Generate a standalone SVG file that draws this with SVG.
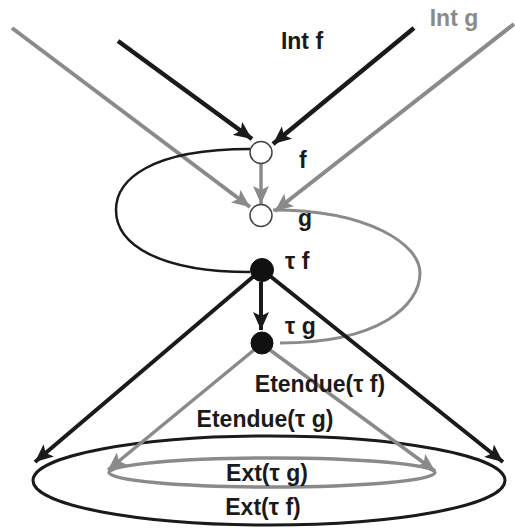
<svg xmlns="http://www.w3.org/2000/svg" width="515" height="532" viewBox="0 0 515 532">
<style>
.t{font-family:"Liberation Sans",Arial,sans-serif;font-weight:bold;font-size:23px;fill:#1a1a1a}
.tg{fill:#8a8a8a}
.bk{stroke:#1a1a1a;fill:none}
.gr{stroke:#8a8a8a;fill:none}
.open{fill:#fff;stroke:#444;stroke-width:1.5}
.full{fill:#111;stroke:#111;stroke-width:1}
</style>
<defs>
<marker id="ab" markerUnits="userSpaceOnUse" markerWidth="19" markerHeight="16" refX="18" refY="8" orient="auto">
<path d="M0,0 L18,8 L0,16 L4,8 z" fill="#1a1a1a"/>
</marker>
<marker id="ag" markerUnits="userSpaceOnUse" markerWidth="19" markerHeight="16" refX="18" refY="8" orient="auto">
<path d="M0,0 L18,8 L0,16 L4,8 z" fill="#8a8a8a"/>
</marker>
</defs>
<rect width="515" height="532" fill="#fff"/>
<g id="ext-f">
<ellipse cx="269" cy="480.5" rx="236" ry="44.5" class="bk" stroke-width="3"/>
<text class="t" x="263" y="515" text-anchor="middle">Ext(τ f)</text>
</g>
<g id="ext-g">
<ellipse cx="272" cy="472.5" rx="163" ry="14.5" class="gr" stroke-width="3.5"/>
<text class="t" x="267" y="481" text-anchor="middle">Ext(τ g)</text>
</g>
<g id="connectors">
<line x1="12" y1="28" x2="250" y2="207" class="gr" stroke-width="4" marker-end="url(#ag)"/>
<line x1="514" y1="24" x2="275" y2="211" class="gr" stroke-width="4" marker-end="url(#ag)"/>
<line x1="118" y1="41" x2="252" y2="139" class="bk" stroke-width="4.5" marker-end="url(#ab)"/>
<line x1="414" y1="28" x2="273" y2="144" class="bk" stroke-width="4.5" marker-end="url(#ab)"/>
<line x1="261" y1="164" x2="261" y2="204" class="gr" stroke-width="3.5" marker-end="url(#ag)"/>
<path d="M250,149 C150,149 116,180 116,210 C116,245 160,272 250,272" class="bk" stroke-width="2.5"/>
<path d="M273,210 C370,210 420,245 420,273 C420,305 380,343 280,343" class="gr" stroke-width="3"/>
<line x1="261" y1="282" x2="261" y2="330" class="bk" stroke-width="4" marker-end="url(#ab)"/>
<line x1="254" y1="276" x2="35" y2="462" class="bk" stroke-width="4" marker-end="url(#ab)"/>
<line x1="270" y1="276" x2="503" y2="462" class="bk" stroke-width="4" marker-end="url(#ab)"/>
<line x1="254" y1="350" x2="108" y2="470" class="gr" stroke-width="3.5" marker-end="url(#ag)"/>
<line x1="270" y1="350" x2="435" y2="471" class="gr" stroke-width="3.5" marker-end="url(#ag)"/>
</g>
<g id="int-f"><text class="t" x="302" y="49" text-anchor="middle">Int f</text></g>
<g id="int-g"><text class="t tg" x="454" y="26" text-anchor="middle">Int g</text></g>
<g id="f">
<circle cx="261" cy="152.5" r="11" class="open"/>
<text class="t" x="299" y="168">f</text>
</g>
<g id="g">
<circle cx="261" cy="215.5" r="11" class="open"/>
<text class="t" x="298" y="226">g</text>
</g>
<g id="tau-f">
<circle cx="262" cy="270" r="11.5" class="full"/>
<text class="t" x="285" y="269">τ f</text>
</g>
<g id="tau-g">
<circle cx="262" cy="343" r="11" class="full"/>
<text class="t" x="285" y="334">τ g</text>
</g>
<g id="etendue-f"><text class="t" x="320" y="392" text-anchor="middle">Etendue(τ f)</text></g>
<g id="etendue-g"><text class="t" x="265" y="427" text-anchor="middle">Etendue(τ g)</text></g>
</svg>
